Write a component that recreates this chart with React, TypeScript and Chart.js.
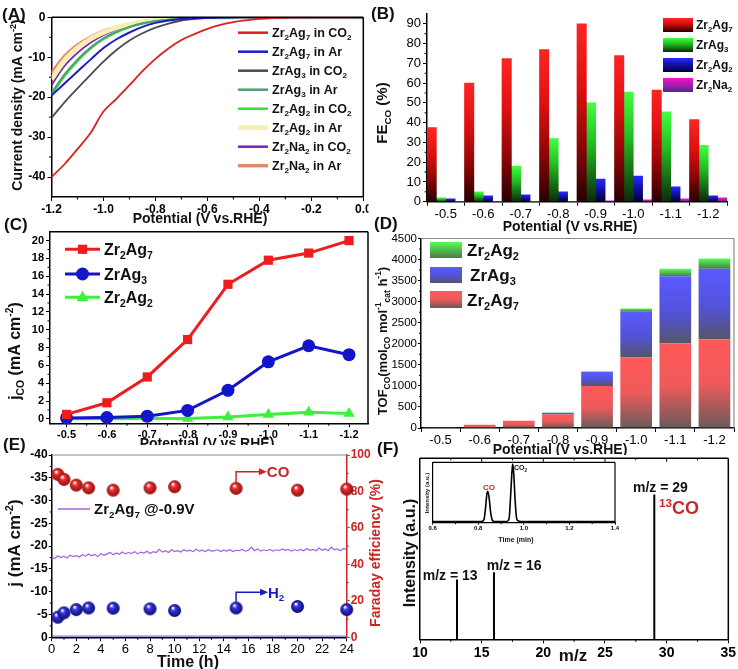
import React, { useEffect, useRef } from 'react';
import { Chart, registerables } from 'chart.js';
Chart.register(...registerables);

const W = 738;
const H = 669;
const FONT = '"Liberation Sans", Arial, Helvetica, sans-serif';
Chart.defaults.font.family = FONT;

// ================= DATA =================
// (A) LSV curves
const A_POT = [-1.2, -1.15, -1.1, -1.05, -1.0, -0.95, -0.9, -0.85, -0.8, -0.75, -0.7, -0.65, -0.6, -0.55, -0.5, -0.45, -0.4, -0.35, -0.3, -0.2, -0.1, 0.0];
const A_ZR2AG7_CO2 = [-40, -36.8, -33.0, -29.0, -23.6, -20.4, -17.0, -13.5, -10.4, -7.8, -5.7, -4.2, -2.9, -1.9, -1.2, -0.75, -0.4, -0.2, -0.1, -0.03, 0, 0];
const A_ZR2AG7_AR = [-19.6, -16.6, -13.6, -10.6, -7.7, -5.5, -3.8, -2.4, -1.4, -0.8, -0.45, -0.25, -0.1, -0.05, -0.02, 0, 0, 0, 0, 0, 0, 0];
const A_ZRAG3_CO2 = [-25.2, -21.3, -17.8, -14.4, -11.1, -8.2, -5.8, -4.0, -2.6, -1.6, -0.8, -0.4, -0.15, -0.05, 0, 0, 0, 0, 0, 0, 0, 0];
const A_ZRAG3_AR = [-19.0, -14.3, -10.6, -7.6, -5.3, -3.6, -2.4, -1.5, -0.95, -0.6, -0.35, -0.2, -0.1, -0.05, 0, 0, 0, 0, 0, 0, 0, 0];
const A_ZR2AG2_CO2 = [-19.5, -14.8, -11.0, -7.9, -5.5, -3.8, -2.5, -1.6, -1.0, -0.6, -0.35, -0.2, -0.1, -0.05, 0, 0, 0, 0, 0, 0, 0, 0];
const A_ZR2AG2_AR = [-15.5, -10.8, -7.7, -5.4, -3.8, -2.6, -1.8, -1.2, -0.8, -0.5, -0.3, -0.18, -0.1, -0.05, 0, 0, 0, 0, 0, 0, 0, 0];
const A_ZR2NA2_CO2 = [-17.0, -12.2, -8.9, -6.4, -4.5, -3.1, -2.1, -1.4, -0.9, -0.55, -0.33, -0.2, -0.1, -0.05, 0, 0, 0, 0, 0, 0, 0, 0];
const A_ZR2NA2_AR = [-14.0, -9.8, -7.0, -5.0, -3.5, -2.5, -1.7, -1.1, -0.75, -0.5, -0.3, -0.18, -0.1, -0.05, 0, 0, 0, 0, 0, 0, 0, 0];
const A_LABELS = ['Zr_2Ag_7 in CO_2', 'Zr_2Ag_7 in Ar', 'ZrAg_3 in CO_2', 'ZrAg_3 in Ar', 'Zr_2Ag_2 in CO_2', 'Zr_2Ag_2 in Ar', 'Zr_2Na_2 in CO_2', 'Zr_2Na_2 in Ar'];
const A_X_TICKS = [-1.2, -1.0, -0.8, -0.6, -0.4, -0.2, 0.0];
const A_Y_TICKS = [0, -10, -20, -30, -40];

// (B) FE_CO bars
const B_POT = ['-0.5', '-0.6', '-0.7', '-0.8', '-0.9', '-1.0', '-1.1', '-1.2'];
const B_ZR2AG7 = [37.5, 60, 72.5, 77, 90, 74, 56.5, 41.5];
const B_ZRAG3 = [2, 5, 18, 32, 50, 55.5, 45.5, 28.5];
const B_ZR2AG2 = [1.5, 3, 3.5, 5, 11.5, 13, 7.5, 3];
const B_ZR2NA2 = [0, 0, 0, 0, 0.5, 1, 1.5, 2];
const B_LABELS = ['Zr_2Ag_7', 'ZrAg_3', 'Zr_2Ag_2', 'Zr_2Na_2'];
const B_Y_TICKS = [0, 10, 20, 30, 40, 50, 60, 70, 80, 90];

// (C) j_CO
const C_POT = [-0.5, -0.6, -0.7, -0.8, -0.9, -1.0, -1.1, -1.2];
const C_ZR2AG7 = [0.5, 1.8, 4.7, 8.9, 15.1, 17.8, 18.6, 20.0];
const C_ZRAG3 = [0.1, 0.15, 0.3, 0.95, 3.2, 6.4, 8.2, 7.2];
const C_ZR2AG2 = [0, 0, 0.05, 0.05, 0.2, 0.5, 0.75, 0.6];
const C_LABELS = ['Zr_2Ag_7', 'ZrAg_3', 'Zr_2Ag_2'];
const C_Y_TICKS = [0, 2, 4, 6, 8, 10, 12, 14, 16, 18, 20];

// (D) TOF stacked
const D_POT = ['-0.5', '-0.6', '-0.7', '-0.8', '-0.9', '-1.0', '-1.1', '-1.2'];
const D_ZR2AG7 = [20, 75, 170, 320, 1000, 1680, 2010, 2110];
const D_ZRAG3 = [0, 5, 5, 40, 335, 1090, 1595, 1670];
const D_ZR2AG2 = [0, 0, 0, 10, 10, 70, 175, 245];
const D_Y_TICKS = [0, 500, 1000, 1500, 2000, 2500, 3000, 3500, 4000, 4500];

// (E) stability
const E_J = [
  -17.6, -17.3, -17.9, -17.5, -17.8, -17.4, -18.0, -17.7, -17.9,
  -17.6, -18.1, -17.8, -18.3, -17.9, -18.2, -17.7, -18.4,
  -18.0, -18.3, -18.6, -18.1, -18.5, -18.2, -18.7, -18.3,
  -18.6, -18.4, -18.8, -18.3, -18.7, -18.5, -18.9, -18.4,
  -18.8, -18.6, -19.3, -18.7, -19.0, -18.6, -19.2, -18.8,
  -19.0, -18.7, -19.2, -18.9, -19.1, -18.8, -19.3, -18.9,
  -19.1, -18.8, -19.2, -18.9, -19.0, -19.2, -18.8, -19.1,
  -18.9, -19.2, -18.8, -19.1, -19.0, -19.3, -18.9, -19.1,
  -19.8, -19.0, -19.4, -18.9, -19.2, -19.0, -19.3, -18.9,
  -19.2, -19.0, -19.4, -19.1, -19.3, -18.9, -19.2, -19.0,
  -19.3, -19.0, -19.5, -19.1, -19.3, -19.0, -19.6, -19.1,
  -19.4, -19.0, -19.8, -19.2, -19.4, -19.0, -19.5, -19.2,
];
const E_T = E_J.map((_, i) => i * 0.25);
const E_FE_T = [0.5, 1, 2, 3, 5, 8, 10, 15, 20, 24];
const E_FE_CO = [89.4, 86.6, 83.5, 82, 80.7, 82, 82.6, 81.7, 80.7, 81.3];
const E_FE_H2 = [11, 13.4, 15.2, 16.1, 16, 15.6, 14.7, 16.1, 16.9, 15.2];
const E_X_TICKS = [0, 2, 4, 6, 8, 10, 12, 14, 16, 18, 20, 22, 24];
const E_Y_TICKS = [-40, -35, -30, -25, -20, -15, -10, -5, 0];
const E_Y2_TICKS = [0, 20, 40, 60, 80, 100];

// (F) mass spectrum + inset GC
const F_MZ = [13, 16, 29];
const F_INT = [0.33, 0.37, 0.8];
const F_X_TICKS = [10, 15, 20, 25, 30, 35];
const GC_T = [0.6, 0.7, 0.8, 0.815, 0.825, 0.832, 0.838, 0.842, 0.848, 0.855, 0.862, 0.87, 0.9, 0.925, 0.935, 0.942, 0.948, 0.951, 0.955, 0.962, 0.968, 0.975, 1.0, 1.2, 1.4];
const GC_I = [0.02, 0.02, 0.02, 0.02, 0.05, 0.25, 0.48, 0.52, 0.4, 0.15, 0.04, 0.02, 0.02, 0.02, 0.06, 0.45, 0.85, 0.97, 0.85, 0.35, 0.08, 0.03, 0.02, 0.02, 0.02];
const GC_X_TICKS = [0.6, 0.8, 1.0, 1.2, 1.4];

// ================= HELPERS =================
type Seg = { t: string; k: number };
function parse(s: string): Seg[] {
  const out: Seg[] = [];
  let i = 0;
  let buf = '';
  const flush = () => { if (buf) { out.push({ t: buf, k: 0 }); buf = ''; } };
  while (i < s.length) {
    const c = s[i];
    if ((c === '_' || c === '^') && i + 1 < s.length) {
      flush();
      let txt = '';
      if (s[i + 1] === '{') { const j = s.indexOf('}', i + 2); txt = s.slice(i + 2, j); i = j + 1; }
      else { txt = s[i + 1]; i += 2; }
      out.push({ t: txt, k: c === '^' ? 1 : -1 });
    } else { buf += c; i++; }
  }
  flush();
  return out;
}

function rich(ctx: any, s: string, x: number, y: number, o: any) {
  const segs = parse(s);
  const fw = o.bold === false ? 'normal' : 'bold';
  const size = o.size;
  const small = size * 0.65;
  const fontOf = (k: number) => `${fw} ${k ? small : size}px ${FONT}`;
  let total = 0;
  const widths = segs.map((sg) => { ctx.font = fontOf(sg.k); const w = ctx.measureText(sg.t).width; total += w; return w; });
  ctx.save();
  ctx.translate(x, y);
  if (o.rot) ctx.rotate(-Math.PI / 2);
  let cx = o.align === 'left' ? 0 : o.align === 'right' ? -total : -total / 2;
  ctx.fillStyle = o.color || '#111';
  ctx.textBaseline = 'alphabetic';
  ctx.textAlign = 'left';
  const base = size * 0.36;
  segs.forEach((sg, i) => {
    ctx.font = fontOf(sg.k);
    const dy = sg.k === 1 ? -size * 0.4 : sg.k === -1 ? size * 0.24 : 0;
    ctx.fillText(sg.t, cx, base + dy);
    cx += widths[i];
  });
  ctx.restore();
}

function line(ctx: any, x1: number, y1: number, x2: number, y2: number, color: string, lw: number) {
  ctx.save();
  ctx.strokeStyle = color;
  ctx.lineWidth = lw;
  ctx.beginPath();
  ctx.moveTo(x1, y1);
  ctx.lineTo(x2, y2);
  ctx.stroke();
  ctx.restore();
}

function minorX(ctx: any, s: any, vals: number[], y: number, len: number, color = '#000') {
  vals.forEach((v) => { const x = s.getPixelForValue(v); line(ctx, x, y, x, y + len, color, 1); });
}
function minorY(ctx: any, s: any, vals: number[], x: number, len: number, color = '#000') {
  vals.forEach((v) => { const y = s.getPixelForValue(v); line(ctx, x, y, x + len, y, color, 1); });
}

function vgrad(ctx: any, y0: number, y1: number, stops: any[]) {
  const g = ctx.createLinearGradient(0, y0, 0, y1);
  stops.forEach(([o, c]: any) => g.addColorStop(o, c));
  return g;
}

type Rect = { l: number; t: number; r: number; b: number };
function pad(rect: Rect, yw: number, xh: number, rw = 0) {
  return { left: rect.l - yw, top: rect.t, right: W - rect.r - rw, bottom: H - rect.b - xh };
}

function linAxis(p: any) {
  const color = p.color || '#000';
  return {
    type: 'linear',
    position: p.position,
    min: p.min,
    max: p.max,
    reverse: !!p.reverse,
    afterBuildTicks: (s: any) => { s.ticks = p.ticks.map((v: number) => ({ value: v })); },
    afterFit: p.vertical ? (s: any) => { s.width = p.size; } : (s: any) => { s.height = p.size; },
    ticks: {
      display: p.labels !== false,
      color,
      font: { family: FONT, size: p.fs || 12, weight: p.fw || 'bold' },
      padding: p.pad ?? 2,
      callback: p.fmt || ((v: any) => String(v)),
      autoSkip: false,
      maxRotation: 0,
      minRotation: 0,
    },
    grid: { display: true, drawOnChartArea: false, drawTicks: p.tl !== 0, tickLength: p.tl ?? 4, color, lineWidth: 1 },
    border: { display: true, color: p.borderColor || color, width: p.bw ?? 1.5 },
  };
}

function catAxis(p: any) {
  return {
    type: 'category',
    afterFit: (s: any) => { s.height = p.size; },
    ticks: { color: '#000', font: { family: FONT, size: p.fs, weight: p.fw }, padding: p.pad ?? 2, autoSkip: false, maxRotation: 0, minRotation: 0 },
    grid: { display: true, drawOnChartArea: false, drawTicks: true, tickLength: 4, color: '#000', offset: true },
    border: { display: true, color: '#000', width: 1.5 },
  };
}

function sphere(color: string, dark: string, r: number) {
  const c = document.createElement('canvas');
  const d = Math.ceil(r * 2 + 2);
  c.width = d; c.height = d;
  const g = c.getContext('2d') as any;
  const gr = g.createRadialGradient(d * 0.38, d * 0.32, 0.5, d / 2, d / 2, r);
  gr.addColorStop(0, '#ffffff');
  gr.addColorStop(0.3, color);
  gr.addColorStop(1, dark);
  g.fillStyle = gr;
  g.beginPath();
  g.arc(d / 2, d / 2, r, 0, Math.PI * 2);
  g.fill();
  return c;
}

const baseOpts = (padding: any) => ({
  responsive: false,
  animation: false,
  events: [],
  layout: { padding },
  plugins: { legend: { display: false }, tooltip: { enabled: false } },
});

// ================= PANELS =================
const A_SERIES = [A_ZR2AG7_CO2, A_ZR2AG7_AR, A_ZRAG3_CO2, A_ZRAG3_AR, A_ZR2AG2_CO2, A_ZR2AG2_AR, A_ZR2NA2_CO2, A_ZR2NA2_AR];
const A_COLORS = ['#dd1f1f', '#1a1acd', '#4a4a58', '#4f9f72', '#35e035', '#f6efb5', '#7a22b5', '#e58a72'];
const A_WIDTHS = [1.8, 2, 1.8, 2, 2, 5, 1.8, 3.5];

function chartA(cv: HTMLCanvasElement) {
  const rect = { l: 51.5, t: 17.3, r: 363.3, b: 197 };
  return new Chart(cv, {
    type: 'line',
    data: {
      datasets: A_SERIES.map((vals, k) => ({
        data: A_POT.map((x, i) => ({ x, y: vals[i] })),
        borderColor: A_COLORS[k], borderWidth: A_WIDTHS[k], pointRadius: 0,
        cubicInterpolationMode: 'monotone', fill: false,
      })),
    },
    options: {
      ...baseOpts(pad(rect, 40, 30)),
      scales: {
        x: linAxis({ vertical: false, size: 30, min: -1.2, max: 0, ticks: A_X_TICKS, fmt: (v: number) => Number(v).toFixed(1), fs: 12, pad: 1 }),
        y: linAxis({ vertical: true, size: 40, min: -45, max: 0, ticks: A_Y_TICKS, fs: 12, pad: 2 }),
      },
    } as any,
    plugins: [{
      id: 'pa',
      afterDraw(chart: any) {
        const { ctx, chartArea: ca, scales } = chart;
        line(ctx, ca.left, ca.top, ca.right, ca.top, '#000', 1.5);
        line(ctx, ca.right, ca.top, ca.right, ca.bottom, '#000', 1.5);
        minorX(ctx, scales.x, [-1.1, -0.9, -0.7, -0.5, -0.3, -0.1], ca.bottom, 2.5);
        minorY(ctx, scales.y, [-5, -15, -25, -35], ca.left, -2.5);
        rich(ctx, '(A)', 2, 14, { size: 17, align: 'left' });
        rich(ctx, 'Current density (mA cm^{-2})', 17, 105, { size: 14, rot: true });
        rich(ctx, 'Potential (V vs.RHE)', 200, 218, { size: 14 });
        A_LABELS.forEach((lab, i) => {
          const y = 32.7 + i * 19;
          line(ctx, 238, y, 268, y, A_COLORS[i], Math.max(2.5, A_WIDTHS[i]));
          rich(ctx, lab, 272, y, { size: 12.5, align: 'left' });
        });
      },
    }],
  });
}

const B_STOPS = [
  [[0, '#ff2424'], [0.35, '#e01010'], [0.7, '#8a0505'], [1, '#250000']],
  [[0, '#40ff40'], [0.4, '#22c022'], [1, '#0a2a0a']],
  [[0, '#2828ff'], [0.5, '#1010a0'], [1, '#000030']],
  [[0, '#ff10c8'], [1, '#502890']],
];

function chartB(cv: HTMLCanvasElement) {
  const rect = { l: 427, t: 14, r: 727, b: 201.7 };
  const series = [B_ZR2AG7, B_ZRAG3, B_ZR2AG2, B_ZR2NA2];
  return new Chart(cv, {
    type: 'bar',
    data: {
      labels: B_POT,
      datasets: series.map((vals, k) => ({
        data: vals,
        categoryPercentage: 1,
        barPercentage: 1,
        borderWidth: 0,
        backgroundColor: (c: any) => {
          const solid = B_STOPS[k][0][1];
          const ys = c.chart.scales.y;
          if (!ys || c.type !== 'data') return solid;
          const top = ys.getPixelForValue(vals[c.dataIndex]);
          const bot = ys.getPixelForValue(0);
          if (!(bot - top > 0.5)) return solid;
          return vgrad(c.chart.ctx, top, bot, B_STOPS[k]);
        },
      })),
    },
    options: {
      ...baseOpts(pad(rect, 40, 30)),
      scales: {
        x: catAxis({ size: 30, fs: 13, fw: 'normal', pad: 1 }),
        y: linAxis({ vertical: true, size: 40, min: 0, max: 95, ticks: B_Y_TICKS, fs: 13, fw: 'normal', pad: 2, tl: 4 }),
      },
    } as any,
    plugins: [{
      id: 'pb',
      beforeDraw(chart: any) {
        const ctx = chart.ctx;
        ctx.save(); ctx.fillStyle = '#fff'; ctx.fillRect(368.5, 195, 14, 18); ctx.restore();
      },
      afterDraw(chart: any) {
        const { ctx, chartArea: ca, scales } = chart;
        minorY(ctx, scales.y, [5, 15, 25, 35, 45, 55, 65, 75, 85], ca.left, -2.5);
        rich(ctx, '(B)', 371, 13, { size: 17, align: 'left' });
        rich(ctx, 'FE_{CO} (%)', 382, 113, { size: 15, rot: true });
        rich(ctx, 'Potential (V vs.RHE)', 570, 226, { size: 14 });
        B_LABELS.forEach((lab, i) => {
          const yc = 25 + i * 20;
          ctx.save();
          ctx.fillStyle = vgrad(ctx, yc - 7, yc + 7, B_STOPS[i]);
          ctx.fillRect(663, yc - 7, 30, 14);
          ctx.restore();
          rich(ctx, lab, 696, yc, { size: 12, align: 'left' });
        });
      },
    }],
  });
}

const C_COLORS = ['#ee1c1c', '#1414c8', '#3cf03c'];
const C_STYLES = ['rect', 'circle', 'triangle'];

function drawMarker(ctx: any, style: string, x: number, y: number, r: number, color: string) {
  ctx.save();
  ctx.fillStyle = color;
  ctx.beginPath();
  if (style === 'rect') { const s = r * Math.SQRT1_2; ctx.rect(x - s, y - s, 2 * s, 2 * s); }
  else if (style === 'circle') { ctx.arc(x, y, r, 0, Math.PI * 2); }
  else { ctx.moveTo(x, y - r); ctx.lineTo(x + r * 0.9, y + r * 0.6); ctx.lineTo(x - r * 0.9, y + r * 0.6); ctx.closePath(); }
  ctx.fill();
  ctx.restore();
}

function chartC(cv: HTMLCanvasElement) {
  const rect = { l: 50, t: 231.7, r: 368, b: 423.3 };
  const series = [C_ZR2AG7, C_ZRAG3, C_ZR2AG2];
  return new Chart(cv, {
    type: 'line',
    data: {
      datasets: series.map((vals, k) => ({
        data: C_POT.map((x, i) => ({ x, y: vals[i] })),
        borderColor: C_COLORS[k], backgroundColor: C_COLORS[k], borderWidth: 3,
        pointStyle: C_STYLES[k], pointRadius: 6.5, pointBackgroundColor: C_COLORS[k], pointBorderColor: C_COLORS[k], pointBorderWidth: 0,
        clip: false, fill: false,
      })),
    },
    options: {
      ...baseOpts(pad(rect, 40, 30)),
      scales: {
        x: linAxis({ vertical: false, size: 30, min: -1.247, max: -0.459, reverse: true, ticks: C_POT, fmt: (v: number) => Number(v).toFixed(1), fs: 11, pad: 1 }),
        y: linAxis({ vertical: true, size: 40, min: -0.5, max: 21, ticks: C_Y_TICKS, fs: 11, pad: 2 }),
      },
    } as any,
    plugins: [{
      id: 'pc',
      afterDraw(chart: any) {
        const { ctx, chartArea: ca, scales } = chart;
        line(ctx, ca.left, ca.top, ca.right, ca.top, '#000', 1.5);
        line(ctx, ca.right, ca.top, ca.right, ca.bottom, '#000', 1.5);
        minorX(ctx, scales.x, [-0.55, -0.65, -0.75, -0.85, -0.95, -1.05, -1.15], ca.bottom, 2.5);
        minorY(ctx, scales.y, [1, 3, 5, 7, 9, 11, 13, 15, 17, 19], ca.left, -2.5);
        rich(ctx, '(C)', 4, 224, { size: 17, align: 'left' });
        rich(ctx, 'j_{CO} (mA cm^{-2})', 14, 351, { size: 16, rot: true });
        rich(ctx, 'Potential (V vs.RHE)', 207, 443, { size: 14 });
        const ys = [249.3, 274, 297.3];
        C_LABELS.forEach((lab, i) => {
          line(ctx, 65, ys[i], 100, ys[i], C_COLORS[i], 3);
          drawMarker(ctx, C_STYLES[i], 82.5, ys[i], 6.5, C_COLORS[i]);
          rich(ctx, lab, 104, ys[i], { size: 16, align: 'left' });
        });
      },
    }],
  });
}

const D_STOPS = [
  [[0, '#ff5858'], [0.5, '#ee5a5a'], [1, '#6a5a5a']],
  [[0, '#5a5aff'], [0.55, '#5252d8'], [1, '#55556a']],
  [[0, '#55ff55'], [1, '#4a7a4a']],
];
const D_LABELS = ['Zr_2Ag_2', 'ZrAg_3', 'Zr_2Ag_7'];

function chartD(cv: HTMLCanvasElement) {
  const rect = { l: 421, t: 238.5, r: 734, b: 428 };
  const series = [D_ZR2AG7, D_ZRAG3, D_ZR2AG2];
  return new Chart(cv, {
    type: 'bar',
    data: {
      labels: D_POT,
      datasets: series.map((vals, k) => ({
        data: vals,
        categoryPercentage: 1,
        barPercentage: 0.81,
        borderWidth: 0,
        backgroundColor: (c: any) => {
          const solid = D_STOPS[k][0][1];
          const ys = c.chart.scales.y;
          if (!ys || c.type !== 'data') return solid;
          const i = c.dataIndex;
          let base = 0;
          for (let q = 0; q < k; q++) base += series[q][i];
          const y0 = ys.getPixelForValue(base + vals[i]);
          const y1 = ys.getPixelForValue(base);
          if (!(y1 - y0 > 0.5)) return solid;
          return vgrad(c.chart.ctx, y0, y1, D_STOPS[k]);
        },
      })),
    },
    options: {
      ...baseOpts(pad(rect, 40, 30)),
      scales: {
        x: { ...catAxis({ size: 30, fs: 13, fw: 'normal', pad: 1 }), stacked: true },
        y: { ...linAxis({ vertical: true, size: 40, min: 0, max: 4500, ticks: D_Y_TICKS, fs: 11.5, fw: 'normal', pad: 1, tl: 3 }), stacked: true },
      },
    } as any,
    plugins: [{
      id: 'pd',
      afterDraw(chart: any) {
        const { ctx, chartArea: ca, scales } = chart;
        line(ctx, ca.left, ca.top, ca.right, ca.top, '#8a8a8a', 1.2);
        line(ctx, ca.right, ca.top, ca.right, ca.bottom, '#8a8a8a', 1.2);
        minorY(ctx, scales.y, [250, 750, 1250, 1750, 2250, 2750, 3250, 3750, 4250], ca.left, -2);
        rich(ctx, '(D)', 374, 223, { size: 17, align: 'left' });
        rich(ctx, 'TOF_{CO}(mol_{CO} mol^{-1}_{cat} h^{-1})', 382, 341, { size: 13, rot: true });
        rich(ctx, 'Potential (V vs.RHE)', 560, 449, { size: 14 });
        const rows = [[242, 258, 2], [267, 283, 1], [291, 308, 0]];
        D_LABELS.forEach((lab, i) => {
          const [a, b, si] = rows[i];
          ctx.save();
          ctx.fillStyle = vgrad(ctx, a, b, D_STOPS[si]);
          ctx.fillRect(430, a, 32, b - a);
          ctx.restore();
          rich(ctx, lab, i === 1 ? 470 : 467, (a + b) / 2, { size: 17, align: 'left' });
        });
      },
    }],
  });
}

function arrow(ctx: any, pts: number[][], color: string) {
  ctx.save();
  ctx.strokeStyle = color;
  ctx.fillStyle = color;
  ctx.lineWidth = 1.5;
  ctx.beginPath();
  ctx.moveTo(pts[0][0], pts[0][1]);
  for (let i = 1; i < pts.length; i++) ctx.lineTo(pts[i][0], pts[i][1]);
  ctx.stroke();
  const [x, y] = pts[pts.length - 1];
  ctx.beginPath();
  ctx.moveTo(x + 5, y);
  ctx.lineTo(x - 3, y - 3.5);
  ctx.lineTo(x - 3, y + 3.5);
  ctx.closePath();
  ctx.fill();
  ctx.restore();
}

function chartE(cv: HTMLCanvasElement) {
  const rect = { l: 51.7, t: 455, r: 346.7, b: 637.3 };
  const red = sphere('#f03030', '#8a0f0f', 6.5);
  const blue = sphere('#3535e6', '#0c0c6a', 6.5);
  const RC = '#cc2323';
  return new Chart(cv, {
    type: 'line',
    data: {
      datasets: [
        { data: E_FE_T.map((x, i) => ({ x, y: E_FE_CO[i] })), yAxisID: 'y2', showLine: false, pointStyle: red, pointRadius: 6.5, clip: false },
        { data: E_FE_T.map((x, i) => ({ x, y: E_FE_H2[i] })), yAxisID: 'y2', showLine: false, pointStyle: blue, pointRadius: 6.5, clip: false },
        { data: E_T.map((x, i) => ({ x, y: E_J[i] })), yAxisID: 'y', borderColor: '#a064e0', borderWidth: 1.2, pointRadius: 0, fill: false },
      ],
    },
    options: {
      ...baseOpts(pad(rect, 40, 30, 40)),
      scales: {
        x: linAxis({ vertical: false, size: 30, min: 0, max: 24, ticks: E_X_TICKS, fs: 13, fw: 'normal', pad: 0 }),
        y: linAxis({ vertical: true, size: 40, min: -40, max: 0, reverse: true, ticks: E_Y_TICKS, fs: 12, pad: 1, tl: 3 }),
        y2: linAxis({ vertical: true, position: 'right', size: 40, min: 0, max: 100, ticks: E_Y2_TICKS, fs: 12, pad: 1, tl: 3, color: RC }),
      },
    } as any,
    plugins: [{
      id: 'pe',
      beforeDraw(chart: any) {
        const ctx = chart.ctx;
        ctx.save(); ctx.fillStyle = '#fff'; ctx.fillRect(0, 445, 372, 224); ctx.restore();
      },
      afterDraw(chart: any) {
        const { ctx, chartArea: ca, scales } = chart;
        line(ctx, ca.left, ca.top, ca.right, ca.top, '#8a8a8a', 1.2);
        line(ctx, ca.left, ca.bottom - 1.2, ca.right, ca.bottom - 1.2, '#5a5ad0', 1);
        minorX(ctx, scales.x, [1, 3, 5, 7, 9, 11, 13, 15, 17, 19, 21, 23], ca.bottom, 2.5);
        minorY(ctx, scales.y, [-37.5, -32.5, -27.5, -22.5, -17.5, -12.5, -7.5, -2.5], ca.left, -2);
        minorY(ctx, scales.y2, [10, 30, 50, 70, 90], ca.right, 2, RC);
        rich(ctx, '(E)', 3, 444, { size: 17, align: 'left' });
        rich(ctx, 'j (mA cm^{-2})', 14, 543, { size: 17, rot: true });
        rich(ctx, 'Time (h)', 188, 661, { size: 16 });
        rich(ctx, 'Faraday efficiency (%)', 375, 553, { size: 14, rot: true, color: RC });
        line(ctx, 58, 509, 90, 509, '#a064e0', 1.5);
        rich(ctx, 'Zr_2Ag_7 @-0.9V', 94, 509, { size: 15, align: 'left' });
        const sx = scales.x, s2 = scales.y2;
        const x0 = sx.getPixelForValue(15);
        arrow(ctx, [[x0, s2.getPixelForValue(85)], [x0, s2.getPixelForValue(90.8)], [sx.getPixelForValue(17.1), s2.getPixelForValue(90.8)]], RC);
        rich(ctx, 'CO', sx.getPixelForValue(17.5), s2.getPixelForValue(90.8), { size: 15, align: 'left', color: RC });
        arrow(ctx, [[x0, s2.getPixelForValue(19.5)], [x0, s2.getPixelForValue(24.7)], [sx.getPixelForValue(17.2), s2.getPixelForValue(24.7)]], '#1a1ac0');
        rich(ctx, 'H_2', sx.getPixelForValue(17.6), s2.getPixelForValue(24.7), { size: 15, align: 'left', color: '#1a1ac0' });
      },
    }],
  });
}

function chartF(cv: HTMLCanvasElement) {
  const rect = { l: 420, t: 458.3, r: 728.3, b: 639.3 };
  return new Chart(cv, {
    type: 'line',
    data: {
      datasets: F_MZ.map((m, i) => ({
        data: [{ x: m, y: 0 }, { x: m, y: F_INT[i] }],
        borderColor: '#000', borderWidth: 2, pointRadius: 0, fill: false,
      })),
    },
    options: {
      ...baseOpts(pad(rect, 40, 30)),
      scales: {
        x: linAxis({ vertical: false, size: 30, min: 10, max: 35, ticks: F_X_TICKS, fs: 14, pad: 1 }),
        y: linAxis({ vertical: true, size: 40, min: 0, max: 1, ticks: [0, 1], labels: false, tl: 0 }),
      },
    } as any,
    plugins: [{
      id: 'pf',
      beforeDraw(chart: any) {
        const ctx = chart.ctx;
        ctx.save(); ctx.fillStyle = '#fff'; ctx.fillRect(384, 455, 354, 214); ctx.restore();
      },
      afterDraw(chart: any) {
        const { ctx, chartArea: ca, scales } = chart;
        line(ctx, ca.left, ca.top, ca.right, ca.top, '#000', 1.5);
        line(ctx, ca.right, ca.top, ca.right, ca.bottom, '#000', 1.5);
        minorX(ctx, scales.x, [12.5, 17.5, 22.5, 27.5, 32.5], ca.bottom, 2.5);
        minorX(ctx, scales.x, [15, 20, 25, 30], ca.top, 3.5);
        minorX(ctx, scales.x, [12.5, 17.5, 22.5, 27.5, 32.5], ca.top, 2);
        rich(ctx, '(F)', 377, 448, { size: 17, align: 'left' });
        rich(ctx, 'Intensity (a.u.)', 409, 553, { size: 16, rot: true });
        rich(ctx, 'm/z', 573, 655, { size: 17 });
        rich(ctx, 'm/z = 13', 422.7, 575, { size: 14, align: 'left' });
        rich(ctx, 'm/z = 16', 486.7, 565, { size: 14, align: 'left' });
        rich(ctx, 'm/z = 29', 633, 487.3, { size: 14, align: 'left' });
        rich(ctx, '^{13}CO', 659, 508, { size: 18, align: 'left', color: '#c4282c' });
      },
    }],
  });
}

function chartInset(cv: HTMLCanvasElement) {
  const rect = { l: 432.7, t: 462.3, r: 615, b: 522.7 };
  return new Chart(cv, {
    type: 'line',
    data: {
      datasets: [{
        data: GC_T.map((x, i) => ({ x, y: GC_I[i] })),
        borderColor: '#000', borderWidth: 1.6, pointRadius: 0, cubicInterpolationMode: 'monotone', fill: false,
      }],
    },
    options: {
      ...baseOpts(pad(rect, 10, 12)),
      scales: {
        x: linAxis({ vertical: false, size: 12, min: 0.6, max: 1.4, ticks: GC_X_TICKS, fmt: (v: number) => Number(v).toFixed(1), fs: 6, pad: 0, tl: 2, bw: 1.2 }),
        y: linAxis({ vertical: true, size: 10, min: 0, max: 1, ticks: [0, 1], labels: false, tl: 0, bw: 1.2 }),
      },
    } as any,
    plugins: [{
      id: 'pi',
      afterDraw(chart: any) {
        const { ctx, chartArea: ca, scales } = chart;
        line(ctx, ca.left, ca.top, ca.right, ca.top, '#000', 1.2);
        line(ctx, ca.right, ca.top, ca.right, ca.bottom, '#000', 1.2);
        minorX(ctx, scales.x, [0.7, 0.9, 1.1, 1.3], ca.bottom, 1.5);
        rich(ctx, 'Time (min)', 516, 539, { size: 7 });
        rich(ctx, 'Intensity (a.u.)', 427, 493, { size: 6, rot: true });
        rich(ctx, 'CO', 489, 487.3, { size: 8, color: '#c4282c' });
        rich(ctx, 'CO_2', 514, 467.7, { size: 7, align: 'left' });
      },
    }],
  });
}

const MAKERS = [chartA, chartB, chartC, chartD, chartE, chartF, chartInset];

export default function App() {
  const refs = MAKERS.map(() => useRef<HTMLCanvasElement>(null));
  useEffect(() => {
    const charts = MAKERS.map((mk, i) => mk(refs[i].current as HTMLCanvasElement));
    return () => charts.forEach((c) => c.destroy());
  }, []);
  return (
    <div style={{ position: 'fixed', left: 0, top: 0, width: W, height: H, background: '#fff', overflow: 'hidden' }}>
      {MAKERS.map((_, i) => (
        <canvas key={i} ref={refs[i]} width={W} height={H}
          style={{ position: 'absolute', left: 0, top: 0, width: W, height: H }} />
      ))}
    </div>
  );
}
